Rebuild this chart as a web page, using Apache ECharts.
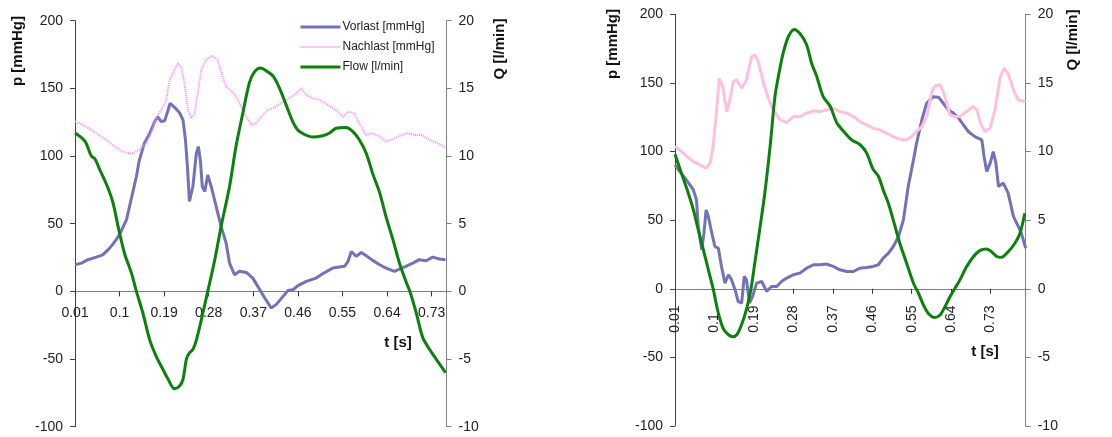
<!DOCTYPE html>
<html><head><meta charset="utf-8">
<script src="https://cdn.jsdelivr.net/npm/echarts@6/dist/echarts.min.js"></script>
<style>html,body{margin:0;padding:0;background:#fff}#c{width:1112px;height:437px}</style>
</head><body><div id="c"></div>
<script>
// ---- data (t [s], value) ----
const tickValues = [0.01, 0.1, 0.19, 0.28, 0.37, 0.46, 0.55, 0.64, 0.73];
const pTicks = { min: -100, max: 200, interval: 50 };
const qTicks = { min: -10, max: 20, interval: 5 };
const seriesNames = ['Vorlast [mmHg]', 'Nachlast [mmHg]', 'Flow [l/min]'];

// left chart
const vorlastLeft = [[0.01,19.7],[0.023,20.9],[0.036,23.4],[0.053,25.3],[0.066,27],[0.08,32],[0.093,38],[0.103,44.3],[0.114,53],[0.12,62.7],[0.127,73.8],[0.134,84.9],[0.14,97.2],[0.15,109.5],[0.161,116.9],[0.171,125.5],[0.177,129],[0.184,125.5],[0.191,126],[0.198,134],[0.202,139],[0.211,136],[0.221,132],[0.228,126.7],[0.233,112],[0.237,92],[0.241,66.4],[0.248,77.5],[0.255,102],[0.259,107],[0.263,97],[0.267,77.5],[0.272,73.8],[0.278,86],[0.285,77.5],[0.295,62.7],[0.305,48],[0.315,35.7],[0.322,20.9],[0.332,12.3],[0.342,14.8],[0.356,14],[0.369,9.8],[0.379,3.7],[0.389,-2.5],[0.406,-12.3],[0.416,-9.8],[0.43,-3.7],[0.44,0.7],[0.45,1.2],[0.46,4.2],[0.477,7.4],[0.497,9.8],[0.51,13],[0.53,17.2],[0.554,18.5],[0.561,22],[0.568,29.5],[0.578,25.8],[0.588,28.8],[0.598,26.3],[0.611,22.9],[0.625,19.7],[0.638,17.2],[0.655,14.8],[0.665,16.5],[0.678,18.5],[0.692,20.9],[0.705,23.4],[0.719,22.6],[0.732,25.3],[0.746,23.9],[0.758,23.4]];
const nachlastLeft = [[0.01,125.5],[0.03,122.3],[0.053,116.9],[0.073,112],[0.09,107],[0.107,103.3],[0.124,101.6],[0.14,104.6],[0.154,109.5],[0.164,116.9],[0.174,128],[0.184,134],[0.194,141.5],[0.201,156],[0.211,163.6],[0.218,168.5],[0.224,166],[0.231,153.8],[0.238,134],[0.245,128],[0.251,130.4],[0.258,146.4],[0.265,163.6],[0.275,171.5],[0.288,174],[0.298,171],[0.305,162.4],[0.315,151.3],[0.329,146.9],[0.339,141.5],[0.352,131.6],[0.366,123],[0.376,124.2],[0.386,129],[0.4,134],[0.416,136.5],[0.43,140],[0.443,142.7],[0.457,146.4],[0.467,150],[0.477,145],[0.49,142.7],[0.504,141.5],[0.52,137.8],[0.537,134],[0.551,129],[0.561,132.8],[0.574,131.6],[0.584,124.2],[0.598,115.6],[0.611,116.9],[0.625,114.4],[0.638,110.7],[0.652,112.4],[0.665,114.9],[0.682,116.9],[0.695,115.6],[0.709,115.6],[0.726,112],[0.742,109.5],[0.758,106.5]];
const flowLeft = [[0.01,11.7],[0.03,11.1],[0.043,10.0],[0.05,9.8],[0.06,9.0],[0.077,7.6],[0.087,6.5],[0.097,4.8],[0.11,2.8],[0.124,1.35],[0.134,0],[0.147,-1.6],[0.161,-3.6],[0.174,-4.8],[0.188,-5.8],[0.198,-6.5],[0.211,-7.2],[0.221,-7.0],[0.228,-6.5],[0.235,-5.0],[0.241,-4.55],[0.248,-4.3],[0.255,-3.6],[0.265,-2.1],[0.278,0],[0.292,2.3],[0.305,4.8],[0.322,7.75],[0.335,10.7],[0.349,13.2],[0.362,15.4],[0.372,16.2],[0.384,16.5],[0.396,16.3],[0.41,15.9],[0.423,15.0],[0.436,13.8],[0.45,12.5],[0.46,11.9],[0.473,11.6],[0.49,11.4],[0.51,11.5],[0.524,11.7],[0.537,12.05],[0.557,12.1],[0.571,11.8],[0.584,11.2],[0.598,10.2],[0.611,8.7],[0.625,7.3],[0.638,5.5],[0.652,3.8],[0.665,2.1],[0.678,0.74],[0.687,-0.1],[0.699,-1.6],[0.712,-3.4],[0.726,-4.3],[0.739,-5.0],[0.758,-6.0]];

// right chart
const vorlastRight = [[0.01,90.3],[0.021,85.4],[0.033,80.6],[0.044,75.7],[0.052,72],[0.059,64.8],[0.063,45.4],[0.071,28.4],[0.076,40.5],[0.081,57.5],[0.086,52.7],[0.094,40.5],[0.101,30.8],[0.109,29.6],[0.116,16.3],[0.124,4.1],[0.132,10.2],[0.139,6.6],[0.147,-0.7],[0.154,-9.2],[0.162,-10.4],[0.168,9],[0.173,6.6],[0.18,-10.4],[0.187,-5.6],[0.196,4.1],[0.208,5.3],[0.219,-1.9],[0.23,1.7],[0.242,1.7],[0.253,5.3],[0.265,7.8],[0.28,10.2],[0.295,11.4],[0.31,15],[0.326,17.5],[0.341,17.5],[0.356,18],[0.371,16.3],[0.386,13.8],[0.402,12.6],[0.417,12.6],[0.432,15],[0.447,15.5],[0.462,16.3],[0.474,17.5],[0.485,22.3],[0.497,26],[0.508,30.8],[0.52,38.1],[0.531,50.2],[0.542,74.5],[0.554,93.9],[0.561,106],[0.573,123],[0.584,135.2],[0.599,140],[0.611,139.6],[0.622,135.2],[0.634,130.3],[0.645,128],[0.657,124.3],[0.668,119.4],[0.679,114.6],[0.694,110.9],[0.71,108.5],[0.715,96.4],[0.721,85.4],[0.729,91.5],[0.736,100],[0.742,91.5],[0.748,74.5],[0.759,77],[0.77,69.7],[0.782,52.7],[0.793,45.4],[0.8,40.5],[0.81,29.6]];
const nachlastRight = [[0.01,103.6],[0.021,101.2],[0.037,96.4],[0.052,92.7],[0.067,90.3],[0.081,87.9],[0.09,91.5],[0.097,103.6],[0.105,130.3],[0.111,153.4],[0.119,147.3],[0.128,129],[0.135,137.6],[0.143,151],[0.151,152.2],[0.162,146.1],[0.173,152.2],[0.185,169.2],[0.193,170.4],[0.2,165.5],[0.212,149.8],[0.223,138.8],[0.234,130.3],[0.25,123],[0.265,121.1],[0.28,125.5],[0.295,125.5],[0.31,127.9],[0.326,129.6],[0.341,129.1],[0.356,130.3],[0.371,131.6],[0.386,129.1],[0.402,127.9],[0.417,125.5],[0.432,121.8],[0.447,119.4],[0.462,117],[0.478,115.8],[0.493,113.3],[0.508,110.9],[0.523,109],[0.538,108.5],[0.55,110.9],[0.561,114.6],[0.573,118.2],[0.584,125.5],[0.596,143.7],[0.603,147.8],[0.615,148.5],[0.622,143.7],[0.63,135.2],[0.637,126.7],[0.649,125.5],[0.66,125.5],[0.675,129.1],[0.69,132.8],[0.699,130.3],[0.707,120.6],[0.717,114.6],[0.729,117],[0.74,130.3],[0.752,154.6],[0.761,160.7],[0.77,157],[0.782,144.9],[0.793,137.6],[0.81,136.4]];
const flowRight = [[0.01,9.8],[0.025,8.4],[0.04,7.0],[0.052,5.75],[0.063,4.3],[0.075,2.8],[0.086,1.4],[0.097,0],[0.109,-1.8],[0.12,-2.9],[0.132,-3.35],[0.142,-3.5],[0.151,-3.35],[0.162,-2.6],[0.173,-1.5],[0.183,-0.07],[0.193,2.1],[0.204,4.5],[0.215,7.0],[0.227,10.4],[0.238,14.0],[0.246,15.5],[0.257,17.2],[0.269,18.4],[0.282,18.9],[0.295,18.6],[0.31,17.8],[0.322,16.4],[0.333,15.5],[0.348,14.0],[0.364,13.3],[0.379,12.1],[0.394,11.5],[0.413,10.85],[0.432,10.5],[0.447,9.9],[0.462,8.7],[0.474,8.2],[0.485,7.2],[0.497,6.2],[0.508,5.0],[0.523,3.3],[0.538,1.9],[0.554,0.4],[0.565,-0.3],[0.577,-1.2],[0.588,-1.8],[0.603,-2.1],[0.615,-1.9],[0.626,-1.3],[0.637,-0.6],[0.649,0.05],[0.66,0.65],[0.675,1.6],[0.691,2.35],[0.706,2.8],[0.721,2.9],[0.732,2.7],[0.744,2.35],[0.755,2.3],[0.77,2.7],[0.785,3.3],[0.797,4.05],[0.808,5.5]];

const xMaxLeft = 0.76, xMaxRight = 0.81;

// ---- layout ----
const G1 = { left: 75, top: 20.7, width: 371.5, height: 406 };
const G2 = { left: 675, top: 14.3, width: 350.7, height: 411.7 };
// offset that puts the x axis at p = 0 (p range -100..200 -> zero sits 1/3 up from the bottom)
function zeroOffset(g) { return -g.height * (0 - pTicks.min) / (pTicks.max - pTicks.min); }

// ---- styling ----
const FONT = 'Liberation Sans, Arial, sans-serif';
const LABEL = { color: '#222', fontSize: 14, fontFamily: FONT };
const C_VOR = '#7272ba', C_NACH_L = '#ff88ff', C_NACH_R = '#ffbfe0', C_FLOW = '#0a820a';

function xAxis(gridIndex, max, rotate, g) {
  return {
    type: 'value', gridIndex, min: 0.01, max, position: 'bottom', offset: zeroOffset(g),
    axisLine: { show: true, onZero: false, lineStyle: { color: '#808080', width: 1 } },
    axisTick: { show: true, length: 5, customValues: tickValues, lineStyle: { color: '#333' } },
    axisLabel: rotate
      ? Object.assign({}, LABEL, { customValues: tickValues, rotate: 90, align: 'left', verticalAlign: 'middle', margin: 44 })
      : Object.assign({}, LABEL, { customValues: tickValues, margin: 15 }),
    splitLine: { show: false }
  };
}
function yAxis(gridIndex, ticks, position, color) {
  return {
    type: 'value', gridIndex, position, min: ticks.min, max: ticks.max, interval: ticks.interval,
    axisLine: { show: true, onZero: false, lineStyle: { color, width: 1 } },
    axisTick: { show: true, length: 5, lineStyle: { color } },
    axisLabel: Object.assign({}, LABEL, { margin: 12 }),
    splitLine: { show: false }
  };
}
function line(name, data, xi, yi, color, width, extra) {
  return Object.assign({
    name, type: 'line', data, xAxisIndex: xi, yAxisIndex: yi, showSymbol: false, symbol: 'none',
    lineStyle: { color, width }, itemStyle: { color }, animation: false, z: 3
  }, extra || {});
}
const titleStyle = { fill: '#111', font: 'bold 15px ' + FONT };
function vtext(x, y, text) {
  return { type: 'text', x, y, rotation: Math.PI / 2,
    style: Object.assign({ text, align: 'center', verticalAlign: 'middle' }, titleStyle) };
}
function htext(x, y, text) {
  return { type: 'text', x, y, style: Object.assign({ text, align: 'center', verticalAlign: 'middle' }, titleStyle) };
}

const chart = echarts.init(document.getElementById('c'), null, { renderer: 'canvas' });
chart.setOption({
  animation: false,
  backgroundColor: '#fff',
  grid: [Object.assign({ containLabel: false }, G1), Object.assign({ containLabel: false }, G2)],
  xAxis: [xAxis(0, xMaxLeft, false, G1), xAxis(1, xMaxRight, true, G2)],
  yAxis: [
    yAxis(0, pTicks, 'left', '#404040'),
    yAxis(0, qTicks, 'right', '#808080'),
    yAxis(1, pTicks, 'left', '#404040'),
    yAxis(1, qTicks, 'right', '#808080')
  ],
  legend: {
    data: [
      { name: seriesNames[0], lineStyle: { color: C_VOR, width: 3 } },
      { name: seriesNames[1], lineStyle: { color: C_NACH_L, width: 2, type: [1, 1] } },
      { name: seriesNames[2], lineStyle: { color: C_FLOW, width: 3 } }
    ],
    orient: 'vertical', left: 294, top: 16, itemWidth: 40, itemHeight: 14, itemGap: 8,
    itemStyle: { opacity: 0 },
    textStyle: { color: '#222', fontSize: 12, fontFamily: FONT, padding: [0, 0, 0, -3] },
    selectedMode: false
  },
  series: [
    line(seriesNames[0], vorlastLeft, 0, 0, C_VOR, 3),
    line(seriesNames[1], nachlastLeft, 0, 0, C_NACH_L, 2, { lineStyle: { color: C_NACH_L, width: 2, type: [1, 1] } }),
    line(seriesNames[2], flowLeft, 0, 1, C_FLOW, 3, { smooth: 0.3 }),
    line(seriesNames[0], vorlastRight, 1, 2, C_VOR, 3),
    line(seriesNames[1], nachlastRight, 1, 2, C_NACH_R, 3),
    line(seriesNames[2], flowRight, 1, 3, C_FLOW, 3, { smooth: 0.3 })
  ],
  graphic: [
    vtext(18, 51, 'p [mmHg]'),
    vtext(500, 49, 'Q [l/min]'),
    htext(398, 343, 't [s]'),
    vtext(613, 44, 'p [mmHg]'),
    vtext(1073, 40, 'Q [l/min]'),
    htext(985, 352, 't [s]')
  ]
});
</script></body></html>
